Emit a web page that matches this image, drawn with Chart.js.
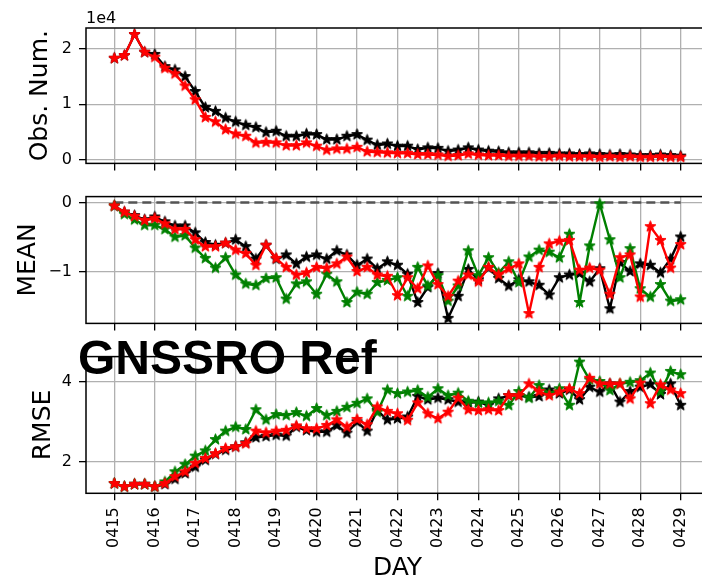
<!DOCTYPE html>
<html>
<head>
<meta charset="utf-8">
<script src="https://cdn.jsdelivr.net/npm/chart.js@4.4.1/dist/chart.umd.min.js"></script>
<style>
  html, body { margin: 0; padding: 0; background: #fff; overflow: hidden; }
  #wrap { position: relative; width: 702px; height: 581px; overflow: hidden; }
  canvas { position: absolute; left: 0; }
  #big {
    position: absolute; left: 78px; top: 334px; z-index: 5;
    font: bold 48px "Liberation Sans", Arial, sans-serif; line-height: 1; color: #000;
    white-space: nowrap;
  }
</style>
</head>
<body>
<div id="wrap">
  <canvas id="obs" width="720" height="180" style="top:0px"></canvas>
  <canvas id="mean" width="720" height="160" style="top:180px"></canvas>
  <canvas id="rmse" width="720" height="241" style="top:340px"></canvas>
  <div id="big">GNSSRO Ref</div>
</div>
<script>
const days = ["0415", "0416", "0417", "0418", "0419", "0420", "0421", "0422",
  "0423", "0424", "0425", "0426", "0427", "0428", "0429"];

// four analysis times per day, 0415 00z .. 0429 00z
const obsBlack = [18300, 18800, 22600, 19400, 19000, 16800, 16200, 15000, 12300, 9400,
  8700, 7500, 6800, 6200, 5800, 4900, 5100, 4200, 4200, 4600,
  4500, 3600, 3600, 4200, 4500, 3500, 2600, 2800, 2400, 2400,
  1800, 2100, 2000, 1500, 1700, 2100, 1700, 1500, 1400, 1200,
  1200, 1200, 1100, 1100, 1000, 1000, 900, 1000, 900, 800,
  900, 800, 700, 700, 800, 700, 600];
const obsRed = [18300, 18800, 22600, 19400, 18500, 16500, 15500, 13300, 10800, 7600,
  6800, 5400, 4600, 4200, 3000, 3100, 3000, 2500, 2500, 3000,
  2400, 1700, 1900, 1900, 2200, 1400, 1300, 1200, 1100, 1100,
  900, 900, 800, 600, 700, 1000, 800, 700, 700, 600,
  600, 600, 500, 500, 600, 500, 500, 500, 400, 500,
  400, 500, 400, 400, 500, 400, 400];

const meanBlack = [-0.05, -0.14, -0.19, -0.25, -0.21, -0.28, -0.34, -0.34, -0.44, -0.58,
  -0.62, -0.59, -0.54, -0.64, -0.82, -0.62, -0.82, -0.76, -0.89, -0.79,
  -0.76, -0.82, -0.70, -0.76, -0.91, -0.82, -0.96, -0.86, -0.91, -1.04,
  -1.45, -1.23, -1.03, -1.68, -1.36, -0.97, -1.12, -0.95, -1.10, -1.21,
  -1.12, -1.15, -1.20, -1.34, -1.09, -1.05, -1.03, -1.15, -0.96, -1.54,
  -0.87, -1.00, -0.89, -0.91, -1.02, -0.82, -0.50];
const meanRed = [-0.05, -0.14, -0.20, -0.26, -0.23, -0.31, -0.39, -0.39, -0.54, -0.64,
  -0.64, -0.59, -0.69, -0.74, -0.91, -0.62, -0.81, -0.94, -1.05, -1.02,
  -0.94, -0.95, -0.89, -0.79, -1.00, -0.94, -1.05, -1.07, -1.35, -1.09,
  -1.25, -0.92, -1.19, -1.36, -1.14, -1.05, -1.15, -0.94, -1.05, -0.96,
  -0.89, -1.61, -0.94, -0.60, -0.56, -0.55, -0.98, -0.95, -0.98, -1.33,
  -0.80, -0.76, -1.37, -0.35, -0.55, -0.95, -0.61];
const meanGreen = [-0.05, -0.17, -0.25, -0.33, -0.33, -0.39, -0.50, -0.48, -0.66, -0.81,
  -0.95, -0.80, -1.05, -1.18, -1.20, -1.10, -1.09, -1.40, -1.18, -1.15,
  -1.33, -1.04, -1.15, -1.45, -1.30, -1.33, -1.16, -1.13, -1.09, -1.36,
  -0.94, -1.21, -1.06, -1.43, -1.21, -0.70, -1.06, -0.80, -1.02, -0.86,
  -1.16, -0.79, -0.69, -0.72, -0.80, -0.46, -1.45, -0.63, -0.02, -0.54,
  -1.09, -0.67, -1.25, -1.37, -1.19, -1.43, -1.41];

const rmseBlack = [1.47, 1.39, 1.45, 1.45, 1.39, 1.45, 1.58, 1.72, 1.88, 2.05,
  2.20, 2.30, 2.38, 2.48, 2.61, 2.64, 2.67, 2.65, 2.87, 2.79,
  2.75, 2.75, 2.91, 2.72, 3.00, 2.77, 3.28, 3.05, 3.08, 3.12,
  3.63, 3.55, 3.59, 3.55, 3.49, 3.47, 3.49, 3.41, 3.57, 3.65,
  3.65, 3.61, 3.63, 3.79, 3.70, 3.79, 3.55, 3.86, 3.74, 3.94,
  3.49, 3.75, 3.86, 3.93, 3.68, 3.94, 3.41];
const rmseRed = [1.47, 1.39, 1.45, 1.45, 1.39, 1.47, 1.64, 1.76, 1.97, 2.09,
  2.21, 2.34, 2.38, 2.46, 2.77, 2.73, 2.77, 2.79, 2.90, 2.83,
  2.83, 2.91, 3.05, 2.87, 3.06, 2.93, 3.37, 3.26, 3.20, 3.04,
  3.47, 3.20, 3.08, 3.24, 3.59, 3.30, 3.28, 3.30, 3.28, 3.65,
  3.65, 3.94, 3.75, 3.65, 3.74, 3.82, 3.70, 4.08, 3.94, 3.94,
  3.94, 3.57, 3.96, 3.45, 3.92, 3.79, 3.70];
const rmseGreen = [1.47, 1.39, 1.45, 1.45, 1.39, 1.51, 1.76, 1.94, 2.15, 2.28,
  2.56, 2.77, 2.87, 2.81, 3.30, 3.05, 3.18, 3.16, 3.23, 3.14,
  3.33, 3.16, 3.26, 3.36, 3.46, 3.57, 3.24, 3.79, 3.70, 3.74,
  3.78, 3.61, 3.82, 3.65, 3.71, 3.51, 3.47, 3.47, 3.51, 3.41,
  3.75, 3.59, 3.90, 3.70, 3.82, 3.41, 4.48, 4.04, 4.00, 3.78,
  3.94, 3.98, 4.02, 4.21, 3.75, 4.25, 4.17];

const FONT = "'DejaVu Sans', sans-serif";
const AXIS_LEFT = 86;

// filled five-point star, like matplotlib's '*' marker
function starMarker(color, r) {
  const c = document.createElement("canvas");
  const size = Math.ceil(r * 2 + 3);
  c.width = c.height = size;
  const g = c.getContext("2d");
  g.translate(size / 2, size / 2);
  g.beginPath();
  for (let k = 0; k < 10; k++) {
    const rad = k % 2 ? r * 0.42 : r;
    const a = -Math.PI / 2 + k * Math.PI / 5;
    g.lineTo(rad * Math.cos(a), rad * Math.sin(a));
  }
  g.closePath();
  g.fillStyle = color;
  g.fill();
  g.lineWidth = 1;
  g.strokeStyle = color;
  g.stroke();
  return c;
}

const colors = { black: "#000000", red: "#ff0000", green: "#008000" };
const stars = {
  black: starMarker(colors.black, 5.8),
  red: starMarker(colors.red, 5.8),
  green: starMarker(colors.green, 5.8),
};

function series(values, name, order) {
  return {
    data: values.map((v, i) => ({ x: i / 4, y: v })),
    borderColor: colors[name],
    backgroundColor: colors[name],
    borderWidth: 2.4,
    pointStyle: stars[name],
    pointRadius: 5,
    tension: 0,
    order: order,
  };
}

// box around the plotting area (drawn over the lines, like the spines)
const frame = {
  id: "frame",
  afterDatasetsDraw(chart) {
    const { ctx, chartArea: a } = chart;
    ctx.save();
    ctx.strokeStyle = "#000";
    ctx.lineWidth = 1.5;
    ctx.strokeRect(a.left, a.top, a.right - a.left, a.bottom - a.top);
    ctx.restore();
  },
};

function panel(id, opts) {
  const xScale = {
    type: "linear",
    min: -0.7,
    max: 14.7,
    afterBuildTicks: (s) => { s.ticks = days.map((d, i) => ({ value: i })); },
    afterFit: (s) => { s.height = opts.xHeight; },
    border: { display: false },
    grid: { color: "#b0b0b0", lineWidth: 1.3, tickLength: 7, tickColor: "#000", tickWidth: 1.3 },
    ticks: {
      display: !!opts.xLabels,
      autoSkip: false,
      minRotation: 90,
      maxRotation: 90,
      padding: 7,
      color: "#000",
      font: { family: FONT, size: 16 },
      callback: (v) => days[v],
    },
    title: {
      display: !!opts.xLabels,
      text: "DAY",
      color: "#000",
      font: { family: FONT, size: 25, lineHeight: 1 },
      padding: { top: 0, bottom: 0.5 },
    },
  };
  const yScale = {
    min: opts.yMin,
    max: opts.yMax,
    afterBuildTicks: (s) => { s.ticks = opts.yTicks.map((v) => ({ value: v })); },
    afterFit: (s) => { s.width = AXIS_LEFT; },
    border: { display: false },
    grid: { color: "#b0b0b0", lineWidth: 1.3, tickLength: 7, tickColor: "#000", tickWidth: 1.3 },
    ticks: { padding: 7, color: "#000", font: { family: FONT, size: 16 }, callback: opts.yFormat },
    title: {
      display: true,
      text: opts.yTitle,
      color: "#000",
      font: { family: FONT, size: 25, lineHeight: 1 },
      padding: { top: opts.yTitlePad, bottom: 0 },
    },
  };
  return new Chart(document.getElementById(id), {
    type: "line",
    data: { datasets: opts.datasets },
    options: {
      responsive: false,
      animation: false,
      devicePixelRatio: 1,
      layout: { padding: { top: opts.top, right: 11, left: 0, bottom: 0 } },
      plugins: { legend: { display: false }, tooltip: { enabled: false } },
      scales: { x: xScale, y: yScale },
    },
    plugins: [frame].concat(opts.plugins || []),
  });
}

const minus = (v) => String(v).replace("-", "\u2212");

// offset text for the observation counts
const offsetLabel = {
  id: "offsetLabel",
  afterDraw(chart) {
    const ctx = chart.ctx;
    ctx.save();
    ctx.fillStyle = "#000";
    ctx.font = "16px " + FONT;
    ctx.textAlign = "left";
    ctx.textBaseline = "alphabetic";
    ctx.fillText("1e4", chart.chartArea.left, 23);
    ctx.restore();
  },
};

panel("obs", {
  top: 28, xHeight: 16,
  yMin: -720, yMax: 23780, yTicks: [0, 10000, 20000],
  yFormat: (v) => String(v / 10000),
  yTitle: "Obs. Num.", yTitlePad: 27.5,
  datasets: [series(obsBlack, "black", 2), series(obsRed, "red", 0)],
  plugins: [offsetLabel],
});

panel("mean", {
  top: 12.7, xHeight: 11.3,
  yMin: -1.753, yMax: 0.085, yTicks: [-1, 0],
  yFormat: minus,
  yTitle: "MEAN", yTitlePad: 15.5,
  datasets: [
    series(meanBlack, "black", 2),
    series(meanGreen, "green", 1),
    series(meanRed, "red", 0),
    {
      data: [{ x: 0, y: 0 }, { x: 14, y: 0 }],
      borderColor: "#555555",
      borderWidth: 2.5,
      borderDash: [9, 5],
      pointRadius: 0,
      order: 3,
    },
  ],
});

panel("rmse", {
  top: 16, xHeight: 87.7, xLabels: true,
  yMin: 1.227, yMax: 4.617, yTicks: [2, 4],
  yFormat: (v) => String(v),
  yTitle: "RMSE", yTitlePad: 30.5,
  datasets: [
    series(rmseBlack, "black", 2),
    series(rmseGreen, "green", 1),
    series(rmseRed, "red", 0),
  ],
});
</script>
</body>
</html>
